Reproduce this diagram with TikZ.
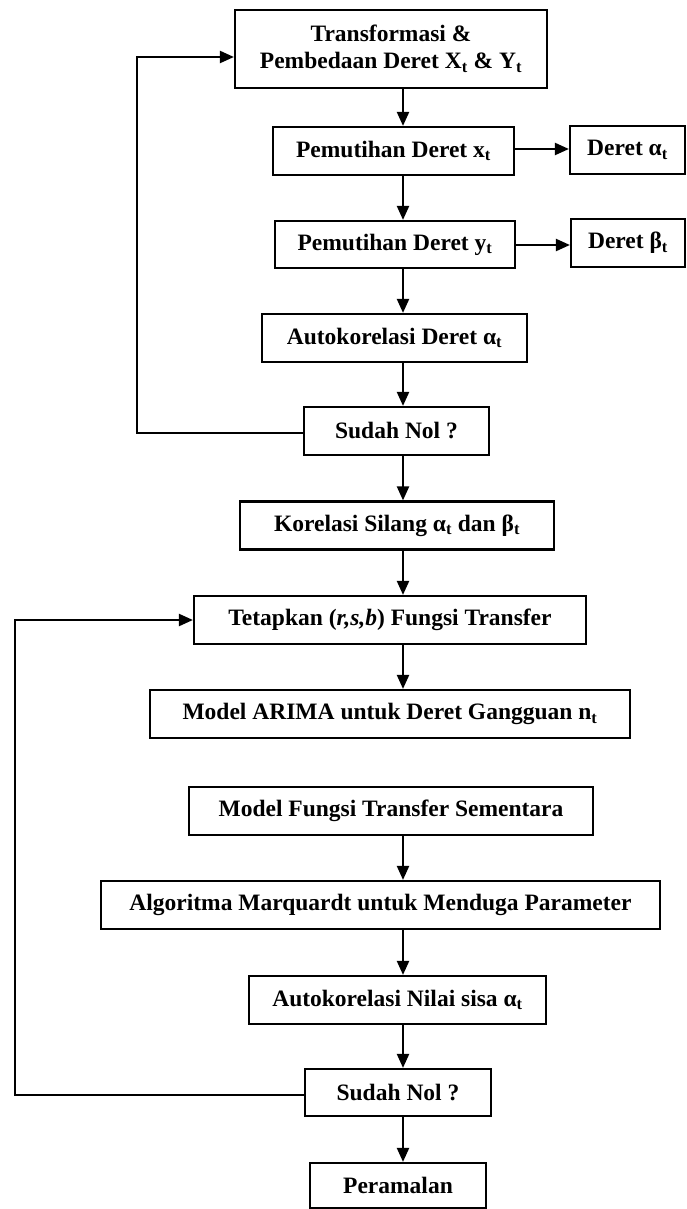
\documentclass[tikz,border=0pt]{standalone}
\usepackage{fontspec}
\setmainfont{Liberation Serif}
\usetikzlibrary{arrows.meta}
\newcommand{\sbt}[1]{\textsubscript{#1}}
\tikzset{
  box/.style={draw, line width=2.2pt, inner sep=0pt, align=center,
    font=\fontsize{23.5}{27}\selectfont\bfseries},
  arr/.style={line width=2.2pt, -{Triangle[length=14pt,width=12pt]}},
}
\begin{document}
\begin{tikzpicture}[x=1pt,y=-1pt]
\fill[white] (0,0) rectangle (687,1209);
\useasboundingbox (0,0) rectangle (687,1209);
% main axis for vertical connectors
\coordinate (ax) at (403,0);
% nodes
\node[box, minimum width=312pt, minimum height=78pt] (b1) at (391,49)
  {Transformasi \&\\Pembedaan Deret X\sbt{t} \& Y\sbt{t}};
\node[box, minimum width=241pt, minimum height=48pt] (b2) at (393.5,151)
  {Pemutihan Deret x\sbt{t}};
\node[box, minimum width=115pt, minimum height=48pt] (da) at (627.5,150)
  {Deret α\sbt{t}};
\node[box, minimum width=240pt, minimum height=47pt] (b3) at (395,244.5)
  {Pemutihan Deret y\sbt{t}};
\node[box, minimum width=114pt, minimum height=48pt] (db) at (628,243)
  {Deret β\sbt{t}};
\node[box, minimum width=265pt, minimum height=48pt] (b4) at (394.5,338)
  {Autokorelasi Deret α\sbt{t}};
\node[box, minimum width=185pt, minimum height=48pt] (s1) at (396.5,431)
  {Sudah Nol ?};
\node[box, minimum width=314pt, minimum height=48pt] (b5) at (397,525.5)
  {Korelasi Silang α\sbt{t} dan β\sbt{t}};
\node[box, minimum width=392pt, minimum height=48pt] (b6) at (390,620)
  {Tetapkan (\textit{r,s,b}) Fungsi Transfer};
\node[box, minimum width=480pt, minimum height=48pt] (b7) at (390,714)
  {Model ARIMA untuk Deret Gangguan n\sbt{t}};
\node[box, minimum width=404pt, minimum height=48pt] (b8) at (391,811)
  {Model Fungsi Transfer Sementara};
\node[box, minimum width=559pt, minimum height=48pt] (b9) at (380.5,905)
  {Algoritma Marquardt untuk Menduga Parameter};
\node[box, minimum width=297pt, minimum height=48pt] (b10) at (397.5,1000)
  {Autokorelasi Nilai sisa α\sbt{t}};
\node[box, minimum width=186pt, minimum height=47pt] (s2) at (398,1092.5)
  {Sudah Nol ?};
\node[box, minimum width=176pt, minimum height=45pt] (b11) at (398,1185.5)
  {Peramalan};
% vertical connectors
\foreach \a/\b in {b1/b2, b2/b3, b3/b4, b4/s1, s1/b5, b5/b6, b6/b7, b8/b9, b9/b10, b10/s2, s2/b11}
  \draw[arr] (\a.south -| ax) -- (\b.north -| ax);
% side connectors
\draw[arr] (b2.east |- 0,149) -- (da.west |- 0,149);
\draw[arr] (b3.east |- 0,245) -- (db.west |- 0,245);
% feedback loops
\coordinate (c1) at (137,433);
\coordinate (c2) at (137,57);
\draw[arr] (s1.west |- c1) -- (c1) -- (c2) -- (b1.west |- c2);
\coordinate (c3) at (15,1095);
\coordinate (c4) at (15,620);
\draw[arr] (s2.west |- c3) -- (c3) -- (c4) -- (b6.west |- c4);
\end{tikzpicture}
\end{document}
